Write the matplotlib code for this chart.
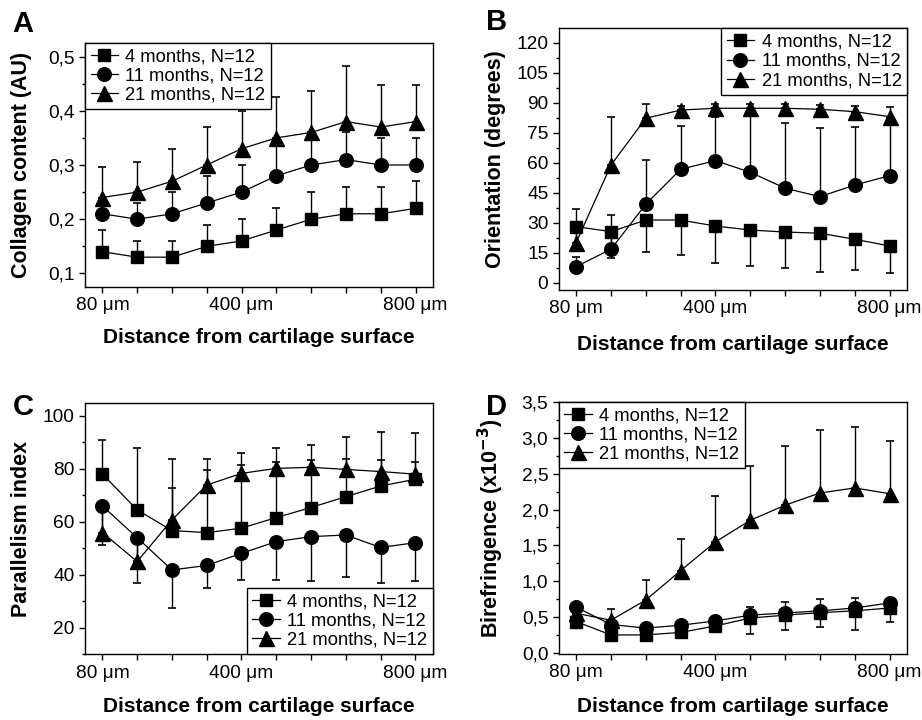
import matplotlib
matplotlib.use("Agg")
import matplotlib.pyplot as plt
from matplotlib.ticker import MultipleLocator, FuncFormatter

plt.rcParams["font.family"] = ["Liberation Sans", "DejaVu Sans"]

# -----------------------------
# Data
# -----------------------------
depth = [80, 160, 240, 320, 400, 480, 560, 640, 720, 800]
xtick_labels = ["80 μm", "", "", "", "400 μm", "", "", "", "", "800 μm"]
labels = ["4 months, N=12", "11 months, N=12", "21 months, N=12"]

# A - collagen content (AU)
coll_4 = [0.14, 0.13, 0.13, 0.15, 0.16, 0.18, 0.20, 0.21, 0.21, 0.22]
coll_4_up = [0.04, 0.03, 0.03, 0.04, 0.04, 0.04, 0.05, 0.05, 0.05, 0.05]
coll_11 = [0.21, 0.20, 0.21, 0.23, 0.25, 0.28, 0.30, 0.31, 0.30, 0.30]
coll_11_up = [0.03, 0.03, 0.04, 0.05, 0.05, 0.06, 0.06, 0.05, 0.05, 0.05]
coll_21 = [0.24, 0.25, 0.27, 0.30, 0.33, 0.35, 0.36, 0.38, 0.37, 0.38]
coll_21_up = [0.057, 0.055, 0.06, 0.07, 0.07, 0.075, 0.077, 0.103, 0.077, 0.067]

# B - orientation (degrees)
ori_4 = [28, 25.5, 31.3, 31.3, 28.3, 26.3, 25.3, 24.7, 21.7, 18.3]
ori_4_down = [12, 13.3, 15.8, 17.5, 18.6, 18, 17.8, 19.2, 15.4, 13.6]
ori_11 = [8, 16.7, 39.2, 56.7, 61, 55.2, 47.2, 43, 48.8, 53.5]
ori_11_up = [5, 17.1, 22.1, 21.6, 21.7, 28.3, 32.8, 34.2, 29.2, 29]
ori_21 = [20, 58.8, 82.2, 86.3, 87.2, 87.2, 87.2, 86.7, 85.5, 83]
ori_21_up = [16.7, 24, 7.2, 2, 2, 2, 2, 2, 3, 4.7]

# C - parallelism index
par_4 = [78.1, 64.5, 56.7, 55.9, 57.6, 61.6, 65.4, 69.5, 73.5, 76.1]
par_4_up = [12.8, 23.5, 16, 23.7, 24, 21, 18, 14.4, 10, 6.5]
par_11 = [66, 54, 41.8, 43.5, 48.1, 52.5, 54.4, 55, 50.3, 52.1]
par_11_down = [14.7, 17.2, 14.4, 8.6, 10.1, 14.5, 16.6, 16, 13.3, 14.3]
par_21 = [55.9, 45, 60.7, 73.9, 78.3, 80.2, 80.6, 79.8, 79, 78]
par_21_up = [8, 8, 22.9, 9.7, 7.6, 7.6, 8.4, 12.1, 14.8, 15.7]

# D - birefringence (x10^-3)
bir_4 = [0.44, 0.255, 0.255, 0.29, 0.38, 0.49, 0.53, 0.565, 0.59, 0.63]
bir_4_down = [0.05, 0.04, 0.04, 0.05, 0.07, 0.22, 0.20, 0.20, 0.26, 0.20]
bir_11 = [0.64, 0.40, 0.35, 0.39, 0.45, 0.53, 0.56, 0.59, 0.63, 0.70]
bir_11_up = [0.03, 0.05, 0.03, 0.05, 0.06, 0.12, 0.16, 0.165, 0.135, 0.03]
bir_21 = [0.556, 0.46, 0.74, 1.15, 1.55, 1.85, 2.06, 2.23, 2.30, 2.22]
bir_21_up = [0.05, 0.15, 0.28, 0.44, 0.64, 0.76, 0.83, 0.87, 0.85, 0.74]

zeros = [0] * len(depth)
markers = ["s", "o", "^"]
msizes = [9.2, 9.8, 10.8]


def comma_fmt(v, pos):
    return f"{v:.1f}".replace(".", ",")


def int_fmt(v, pos):
    return f"{v:.0f}"


def draw_panel(ax, series, ylabel, ylim, major, fmt, legend_loc, letter_xy, letter):
    for i, (vals, lo, hi) in enumerate(series):
        ax.errorbar(depth, vals, yerr=[lo, hi], fmt="none", ecolor="black",
                    elinewidth=1.0, capsize=3, capthick=1.2, zorder=2)
        ax.plot(depth, vals, color="black", lw=0.9, marker=markers[i],
                ms=msizes[i], mfc="black", mec="black", label=labels[i], zorder=3)

    ax.set_xlim(40, 840)
    ax.set_ylim(*ylim)
    ax.set_xticks(depth)
    ax.set_xticklabels(xtick_labels)
    ax.yaxis.set_major_locator(MultipleLocator(major))
    ax.yaxis.set_minor_locator(MultipleLocator(major / 2))
    ax.yaxis.set_major_formatter(FuncFormatter(fmt))
    ax.tick_params(axis="both", which="major", direction="out", length=4.5,
                   width=1, labelsize=13.8, pad=3, top=False, right=False)
    ax.tick_params(axis="y", which="minor", direction="out", length=2.5, width=1)
    ax.tick_params(axis="x", which="minor", bottom=False)
    for s in ax.spines.values():
        s.set_linewidth(1.0)

    ax.set_ylabel(ylabel, fontsize=15.5, fontweight="bold")
    ax.yaxis.set_label_coords(-0.152, 0.5)
    ax.set_xlabel("Distance from cartilage surface", fontsize=15, fontweight="bold")
    ax.xaxis.set_label_coords(0.5, -0.17)

    leg = ax.legend(loc=legend_loc, fontsize=13.2, frameon=True, fancybox=False,
                    edgecolor="black", framealpha=1, borderaxespad=0,
                    handlelength=1.5, handletextpad=0.4, borderpad=0.3,
                    labelspacing=0.12, numpoints=1)
    leg.get_frame().set_linewidth(1.0)

    fig.text(letter_xy[0], letter_xy[1], letter, fontsize=21, fontweight="bold",
             va="baseline", ha="left")


fig = plt.figure(figsize=(9.22, 7.2), dpi=100)

axA = fig.add_axes([0.0922, 0.6014, 0.3774, 0.3389])
axB = fig.add_axes([0.606, 0.5972, 0.3778, 0.3635])
axC = fig.add_axes([0.0922, 0.0912, 0.3771, 0.3494])
axD = fig.add_axes([0.606, 0.0917, 0.3778, 0.3504])

draw_panel(axA,
           [(coll_4, zeros, coll_4_up), (coll_11, zeros, coll_11_up), (coll_21, zeros, coll_21_up)],
           "Collagen content (AU)", (0.075, 0.525), 0.1, comma_fmt,
           "upper left", (0.0138, 0.9556), "A")
draw_panel(axB,
           [(ori_4, ori_4_down, zeros), (ori_11, zeros, ori_11_up), (ori_21, zeros, ori_21_up)],
           "Orientation (degrees)", (-3.7, 127.2), 15, int_fmt,
           "upper right", (0.527, 0.9583), "B")
draw_panel(axC,
           [(par_4, zeros, par_4_up), (par_11, par_11_down, zeros), (par_21, zeros, par_21_up)],
           "Parallelism index", (9.9, 105), 20, int_fmt,
           "lower right", (0.0138, 0.4236), "C")
draw_panel(axD,
           [(bir_4, bir_4_down, zeros), (bir_11, zeros, bir_11_up), (bir_21, zeros, bir_21_up)],
           "Birefringence (x10$^{\\mathbf{-3}}$)", (-0.01, 3.5), 0.5, comma_fmt,
           "upper left", (0.527, 0.4236), "D")

fig.savefig("out.png", dpi=100)
